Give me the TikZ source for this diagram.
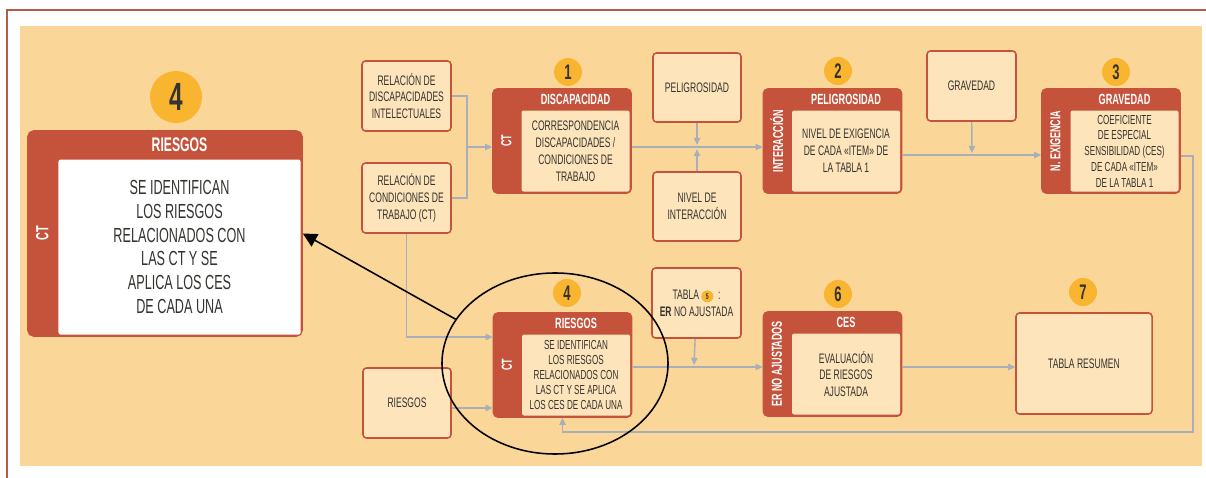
\documentclass[tikz,border=0pt]{standalone}
\usepackage{fontspec}
\setmainfont{Liberation Sans}[FakeStretch=0.62]
\usetikzlibrary{arrows.meta,shapes.geometric}
\definecolor{bgorange}{HTML}{FBD699}
\definecolor{boxfill}{HTML}{FDE4BA}
\definecolor{rust}{HTML}{C5523A}
\definecolor{frameline}{HTML}{B35C48}
\definecolor{badgeyellow}{HTML}{F9B52F}
\definecolor{linegrey}{HTML}{A8AEBA}
\definecolor{ink}{HTML}{35332F}
\tikzset{
 plainbox/.style={rectangle, rounded corners=2.5pt, fill=boxfill, draw=rust, line width=1.1pt,
   align=center, text=ink, inner sep=1pt, font=\fontsize{9.8}{12}\selectfont},
 procframe/.style={rectangle, rounded corners=3pt, fill=rust, draw=rust, line width=1.1pt,
   minimum width=3.45cm, minimum height=2.6cm},
 procbody/.style={rectangle, rounded corners=1.5pt, fill=boxfill, inner sep=1pt, anchor=south east,
   minimum width=2.7cm, minimum height=2.025cm, align=center, text=ink, font=\fontsize{9.8}{12}\selectfont},
 headlbl/.style={text=white, inner sep=0, font=\bfseries\fontsize{10.5}{12}\selectfont},
 sidelbl/.style={text=white, inner sep=0, rotate=90, font=\bfseries\fontsize{10.3}{12}\selectfont},
 badge/.style={circle, fill=badgeyellow, minimum size=0.7cm, inner sep=0, text=ink,
   font=\bfseries\fontsize{15}{15}\selectfont},
 conn/.style={draw=linegrey, line width=1pt},
 arr/.style={conn, -{Triangle[length=5pt,width=4.5pt]}},
}
\begin{document}
\begin{tikzpicture}[x=0.025cm, y=-0.025cm]
 \useasboundingbox (0,0) rectangle (1206,478);
 \fill[bgorange] (20,26) rectangle (1202,466);
 \draw[frameline, line width=1.5pt] (1206,10) -- (7,10) -- (7,478);

 %big box 4
 \node[procframe, rounded corners=4pt, minimum width=6.85cm, minimum height=5.125cm] (bigrisk) at (165,233.5) {};
 \node[procbody, fill=white, minimum width=6.05cm, minimum height=4.375cm,
   font=\fontsize{14.5}{17}\selectfont] (bigbody) at ([xshift=-1.4pt,yshift=1.4pt]bigrisk.south east)
   {SE IDENTIFICAN\\LOS RIESGOS\\RELACIONADOS CON\\LAS CT Y SE\\APLICA LOS CES\\DE CADA UNA};
 \node[headlbl, font=\bfseries\fontsize{14}{14}\selectfont] (bighead) at ([yshift=10pt]bigbody.north) {RIESGOS};
 \node[sidelbl, font=\bfseries\fontsize{12.5}{12}\selectfont] (bigside) at ([xshift=10.7pt]bigrisk.west) {CT};
 \node[badge, minimum size=1.3cm, font=\bfseries\fontsize{28}{28}\selectfont] (bignum) at (176,97) {4};

 %inputs
 \node[plainbox, minimum width=2.225cm, minimum height=1.75cm] (relDisc) at (406.5,96)
   {RELACIÓN DE\\DISCAPACIDADES\\INTELECTUALES};
 \node[plainbox, minimum width=2.225cm, minimum height=1.75cm] (relCond) at (406.5,198)
   {RELACIÓN DE\\CONDICIONES DE\\TRABAJO (CT)};
 \node[plainbox, minimum width=2.2cm, minimum height=1.75cm] (riesgosIn) at (407,403) {RIESGOS};
 \node[plainbox, minimum width=2.2cm, minimum height=1.725cm] (pelig) at (697,87.5) {PELIGROSIDAD};
 \node[plainbox, minimum width=2.2cm, minimum height=1.725cm] (nivInt) at (697,206.5) {NIVEL DE\\INTERACCIÓN};
 \node[plainbox, minimum width=2.225cm, minimum height=1.75cm] (grav) at (971.5,86) {GRAVEDAD};
 \node[plainbox, minimum width=2.225cm, minimum height=1.75cm] (tabla5) at (696.5,303)
   {TABLA \tikz[baseline=(five.base)]\node[circle, fill=badgeyellow, inner sep=0.5pt, minimum size=8.5pt,
   font=\bfseries\fontsize{6}{6}\selectfont] (five) {5}; \,:\\\textbf{ER} NO AJUSTADA};
 \node[plainbox, minimum width=3.4cm, minimum height=2.525cm] (resumen) at (1084,363.5) {TABLA RESUMEN};

 %stage 1
 \node[procframe] (p1) at (562,141) {};
 \node[procbody] (b1) at ([xshift=-1.4pt,yshift=1.4pt]p1.south east)
   {CORRESPONDENCIA\\DISCAPACIDADES /\\CONDICIONES DE\\TRABAJO};
 \node[headlbl] (h1) at ([yshift=7.5pt]b1.north) {DISCAPACIDAD};
 \node[sidelbl] (s1) at ([xshift=10pt]p1.west) {CT};
 \node[badge] (n1) at (568,72) {1};

 %stage 2
 \node[procframe] (p2) at (832.5,141) {};
 \node[procbody] (b2) at ([xshift=-1.4pt,yshift=1.4pt]p2.south east)
   {NIVEL DE EXIGENCIA\\DE CADA «ITEM» DE\\LA TABLA 1};
 \node[headlbl] (h2) at ([yshift=7.5pt]b2.north) {PELIGROSIDAD};
 \node[sidelbl] (s2) at ([xshift=10pt]p2.west) {INTERACCIÓN};
 \node[badge] (n2) at (838,71) {2};

 %stage 3
 \node[procframe] (p3) at (1111,141) {};
 \node[procbody, font=\fontsize{9.3}{11.2}\selectfont] (b3) at ([xshift=-1.4pt,yshift=1.4pt]p3.south east)
   {COEFICIENTE\\DE ESPECIAL\\SENSIBILIDAD (CES)\\DE CADA «ITEM»\\DE LA TABLA 1};
 \node[headlbl] (h3) at ([yshift=7.5pt]b3.north) {GRAVEDAD};
 \node[sidelbl] (s3) at ([xshift=10pt]p3.west) {N. EXIGENCIA};
 \node[badge] (n3) at (1116,72) {3};

 %stage 4
 \node[procframe] (p4) at (562.5,365) {};
 \node[procbody, font=\fontsize{9.3}{10.5}\selectfont] (b4) at ([xshift=-1.4pt,yshift=1.4pt]p4.south east)
   {SE IDENTIFICAN\\LOS RIESGOS\\RELACIONADOS CON\\LAS CT Y SE APLICA\\LOS CES DE CADA UNA};
 \node[headlbl] (h4) at ([yshift=7.5pt]b4.north) {RIESGOS};
 \node[sidelbl] (s4) at ([xshift=10pt]p4.west) {CT};
 \node[badge] (n4) at (567,293) {4};

 %stage 6
 \node[procframe] (p6) at (832.5,364) {};
 \node[procbody] (b6) at ([xshift=-1.4pt,yshift=1.4pt]p6.south east)
   {EVALUACIÓN\\DE RIESGOS\\AJUSTADA};
 \node[headlbl] (h6) at ([yshift=7.5pt]b6.north) {CES};
 \node[sidelbl] (s6) at ([xshift=10pt]p6.west) {ER NO AJUSTADOS};
 \node[badge] (n6) at (838,294) {6};

 %stage 7
 \node[badge] (n7) at (1083,292) {7};

 %links
 \coordinate (join1) at (467,147);
 \draw[conn] (relDisc.east) -| (join1);
 \draw[conn] (relCond.east) -| (join1);
 \draw[arr] (join1) -- (p1.west |- join1);
 \coordinate (join2) at (697,147);
 \draw[arr] (p1.east |- join2) -- (p2.west |- join2);
 \draw[arr, shorten >=1.5pt] (pelig) -- (join2);
 \draw[arr, shorten >=1.5pt] (nivInt) -- (join2);
 \coordinate (join3) at (972,155);
 \draw[arr] (p2.east |- join3) -- (p3.west |- join3);
 \draw[arr, shorten >=1.5pt] (grav) -- (join3);
 \coordinate (back) at (1193,432);
 \draw[arr] ([yshift=-10.7pt]p3.east) -| (back) -| (p4.south);
 \draw[arr] (relCond.south) |- ([yshift=19.9pt]p4.west);
 \draw[arr] ([yshift=-3.5pt]riesgosIn.east) -- ([yshift=-3.5pt]p4.west |- riesgosIn.east);
 \coordinate (join4) at (694,367);
 \draw[arr] (p4.east |- join4) -- (p6.west |- join4);
 \draw[arr, shorten >=1.5pt] (tabla5) -- (join4);
 \draw[arr] (p6.east |- join4) -- (resumen.west |- join4);

 %focus on stage 4
 \node[ellipse, draw=black, line width=1.1pt, minimum width=5.65cm, minimum height=4.525cm] (focus) at (555,363.5) {};
 \draw[black, line width=1.1pt, -{Triangle[length=10pt,width=10pt]}] (focus.156) -- (bigrisk.east);
\end{tikzpicture}
\end{document}
